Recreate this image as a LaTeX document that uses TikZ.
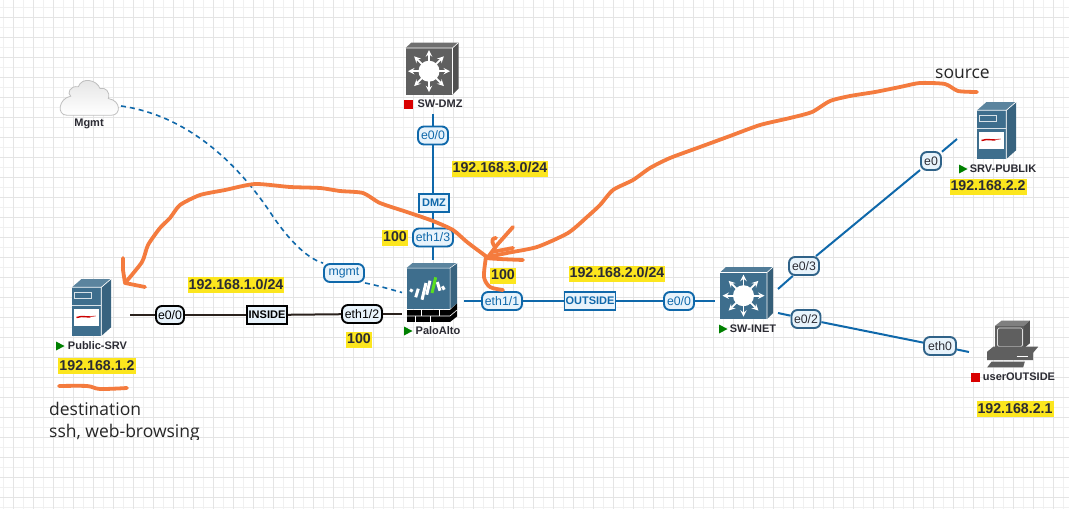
\documentclass[tikz,border=0pt]{standalone}
\usepackage{fontspec}
\usepackage{xcolor}
\usepackage{tikz}
\setmainfont{Liberation Sans}
\newfontfamily\notefont{Open Sans}
\usetikzlibrary{shapes,arrows,positioning,calc}

\definecolor{gridminor}{HTML}{F0F0F0}
\definecolor{gridmajor}{HTML}{E4E4E4}
\definecolor{linkblue}{HTML}{0F68AA}
\definecolor{linkdark}{HTML}{2A211C}
\definecolor{portfill}{HTML}{E8F3FB}
\definecolor{portslate}{HTML}{2F6288}
\definecolor{marker}{HTML}{FCE61E}
\definecolor{penorange}{HTML}{F47B3E}
\definecolor{iconblue}{HTML}{3E6E8D}
\definecolor{icongray}{HTML}{5F5F5F}
\definecolor{textdark}{HTML}{2B2B33}

\begin{document}
\begin{tikzpicture}[
    x=1pt, y=-1pt,
    device/.style={rectangle, inner sep=0pt, outer sep=0pt},
    devlabel/.style={inner sep=0pt, text=textdark, font=\fontsize{11}{12}\bfseries\selectfont},
    subnet/.style={fill=marker, inner xsep=1pt, inner ysep=1.5pt, text height=10.5pt, text depth=2.5pt, text=textdark, font=\fontsize{14.2}{15}\bfseries\selectfont},
    portlabel/.style={rectangle, draw=linkblue, fill=portfill, line width=1.9pt, rounded corners=6pt, inner sep=0pt, minimum height=18pt, text=linkblue, font=\fontsize{12.3}{13}\selectfont},
    portblack/.style={portlabel, draw=black, text=black},
    portslated/.style={portlabel, draw=portslate, text=textdark},
    zonelabel/.style={portlabel, rounded corners=0pt, font=\fontsize{11}{13}\bfseries\selectfont},
    bluelink/.style={draw=linkblue, line width=2pt},
    blacklink/.style={draw=linkdark, line width=2pt},
    mgmtlink/.style={draw=linkblue, line width=1.6pt, dash pattern=on 5pt off 4pt},
    freehand/.style={draw=penorange, line width=3.8pt, line cap=round, line join=round},
    note/.style={inner sep=0pt, anchor=west, text=black!85, font=\notefont\fontsize{17.5}{20}\selectfont},
    runflag/.pic={\fill[green!50!black] (-4,-4.5) -- (4.5,0) -- (-4,4.5) -- cycle;},
    stopflag/.pic={\fill[red!85!black] (-4.5,-4.5) rectangle (4.5,4.5);},
    pics/switchicon/.style={code={
        \fill[#1!90!white] (-26.5,-20.5) -- (-20.5,-26) -- (26.5,-26) -- (20.5,-20.5) -- cycle;
        \fill[#1!85!black] (20.5,-20.5) -- (26.5,-26) -- (26.5,20) -- (20.5,26) -- cycle;
        \fill[#1] (-26.5,-20.5) rectangle (20.5,26);
        \draw[white, line width=0.6pt] (-26.5,-20.5) -- (20.5,-20.5) -- (26.5,-26) (20.5,-20.5) -- (20.5,26);
        \fill[white] (-3,2.7) circle (10.5);
        \foreach \ang in {0,45,...,315}
            \draw[white, line width=1.8pt, ->, >=stealth] (-3,2.7) -- ++(\ang:21);
    }},
    servericon/.pic={
        \fill[iconblue!85!white] (-19.5,-20.2) -- (-10,-28.5) -- (19.5,-28.5) -- (9.8,-20.2) -- cycle;
        \fill[iconblue] (-19.5,-20.2) rectangle (9.8,28.5);
        \fill[iconblue!90!black] (9.8,-20.2) -- (19.5,-28.5) -- (19.5,19.8) -- (9.8,28.5) -- cycle;
        \draw[white, line width=0.7pt] (-19.5,-20.2) -- (9.8,-20.2) -- (19.5,-28.5) (9.8,-20.2) -- (9.8,28.5);
        \draw[white!80!iconblue, line width=1pt] (-16.8,-15.2) rectangle (0,-8.8);
        \draw[white!80!iconblue, line width=1pt] (-19.5,-2) -- (9.8,-2);
        \fill[white] (-18,1) rectangle (7,18);
        \draw[red!80!black, line width=1.4pt] (-15,10) -- (-10,9) -- (-1,9.5);
        \draw[red!80!black, line width=0.6pt] (-1,9) -- (4,8.5);
    },
    pcicon/.pic={
        \fill[icongray!80!white] (-17.7,-18) -- (-11,-23.3) -- (17.3,-23.3) -- (11.3,-18) -- cycle;
        \fill[icongray] (-17.7,-18) rectangle (11.3,4.3);
        \fill[icongray!85!black] (11.3,-18) -- (17.3,-23.3) -- (17.3,-0.7) -- (11.3,4.3) -- cycle;
        \draw[white!80!icongray, line width=0.7pt, rounded corners=1.5pt] (-15,-16) rectangle (10,2.7);
        \fill[icongray] (-25.3,7.7) -- (-19.3,2.7) -- (25.7,2.7) -- (20.7,8.7) -- (20.7,16) -- (-25.3,16) -- cycle;
        \draw[white, line width=0.6pt] (4,12) -- (15.7,12);
        \fill[icongray] (-25.3,23.3) -- (-21,17.7) -- (12.3,17.7) -- (10.7,23.3) -- cycle;
    },
    paloicon/.pic={
        \fill[iconblue!85!white] (-25,-24.5) -- (-19,-29.5) -- (25.5,-29.5) -- (18.5,-24.5) -- cycle;
        \fill[iconblue] (-25,-24.5) rectangle (18.5,16.5);
        \fill[iconblue!90!black] (18.5,-24.5) -- (25.5,-29.5) -- (25.5,11) -- (18.5,16.5) -- cycle;
        \draw[white, line width=0.5pt] (-25,-24.5) -- (18.5,-24.5) -- (25.5,-29.5) (18.5,-24.5) -- (18.5,16.5);
        % Logo strokes
        \foreach \xa/\ya/\xb/\yb in {-21.5/-2.8/-18.8/-1.2, -15.8/4.8/-13.2/-3.8, -9.5/7.2/-5.5/-9.5, -4.8/2.2/-1.5/-11.8, 5.8/-10.5/8.5/-1.8, 10.8/-6.2/12.8/-2.8}
            \draw[white, line width=3pt] (\xa,\ya) -- (\xb,\yb);
        \draw[green!70!yellow!75!gray, line width=3pt] (0.5,0.5) -- (4.2,-15.2);
        % Brick wall
        \fill[black] (-25,17.5) rectangle (18.5,29.5);
        \fill[black] (18.5,17.5) -- (25.5,11) -- (25.5,24) -- (18.5,29.5) -- cycle;
        \draw[white, line width=0.6pt] (-25,23.5) -- (18.5,23.5) -- (25.5,17.5) (-10,17.5) -- (-10,23.5) (8,17.5) -- (8,23.5) (-1,23.5) -- (-1,29.5) (-16,23.5) -- (-16,29.5);
    }
]

% Background grid
\useasboundingbox (0,0) rectangle (1069,509);
\fill[white] (0,0) rectangle (1069,509);
\foreach \gx in {3.3,23.3,...,1069}
    \draw[gridminor, line width=1pt] (\gx,0) -- (\gx,509);
\foreach \gy in {7.5,27.5,...,509}
    \draw[gridminor, line width=1pt] (0,\gy) -- (1069,\gy);
\foreach \gx in {13.3,33.3,...,1069}
    \draw[gridmajor, line width=1pt] (\gx,0) -- (\gx,509);
\foreach \gy in {17.5,37.5,...,509}
    \draw[gridmajor, line width=1pt] (0,\gy) -- (1069,\gy);

% Devices
\node [device, minimum width=64pt, minimum height=37pt] (mgmtcloud) at (89,97.5) {};
\node [device, minimum width=77pt, minimum height=57pt] (publicsrv) at (91.5,307.5) {};
\node [device, minimum width=62pt, minimum height=65pt] (paloalto) at (433,292.5) {};
\node [device, minimum width=52pt, minimum height=91pt] (swdmz) at (433,68.5) {};
\node [device, minimum width=63pt, minimum height=52pt] (swinet) at (746.5,293) {};
\node [device, minimum width=79pt, minimum height=57pt] (srvpublik) at (996.5,130.5) {};
\node [device, minimum width=87pt, minimum height=46pt] (useroutside) at (1012.5,344) {};

% Cloud
\shade[top color=gridmajor, bottom color=white, draw=black!25, line width=0.8pt] (66.7,115.2) -- (111.7,115.2)
    .. controls (120.7,115.2) and (121.7,100.8) .. (108.3,98.5)
    .. controls (110.7,91.8) and (105,86.8) .. (100,88.5)
    .. controls (96.7,79.5) and (81.7,76.8) .. (78.3,86.8)
    .. controls (70,85.2) and (66.7,93.5) .. (70.7,96.2)
    .. controls (58.3,98.5) and (56.7,115.2) .. (66.7,115.2) -- cycle;

% Device icons
\pic at (publicsrv) {servericon};
\pic at ([xshift=-1.5pt]paloalto.center) {paloicon};
\pic at ([xshift=-1pt]swdmz.center) {switchicon=icongray};
\pic at (swinet) {switchicon=iconblue};
\pic at (srvpublik) {servericon};
\pic at (useroutside) {pcicon};

% Device names
\node [devlabel] (mgmtname) at (89,124) {Mgmt};
\node [devlabel] (publicname) at (97.5,346) {Public-SRV};
\node [devlabel] (paloname) at (438,331) {PaloAlto};
\node [devlabel] (dmzname) at (440,104) {SW-DMZ};
\node [devlabel] (inetname) at (753,329) {SW-INET};
\node [devlabel] (publikname) at (1003,169) {SRV-PUBLIK};
\node [devlabel] (username) at (1019,377) {userOUTSIDE};

% Status flags
\pic at (60,346) {runflag};
\pic at (408,331) {runflag};
\pic at (408.5,104.5) {stopflag};
\pic at (723,329) {runflag};
\pic at (963,169) {runflag};
\pic at (975.5,377) {stopflag};

% Ports and zones
\node [portblack, minimum width=28pt] (srvport) at (170,315) {e0/0};
\node [portblack, zonelabel, draw=black, text=black, minimum width=40pt] (inside) at (267,315) {INSIDE};
\node [portblack, minimum width=40pt] (eth12) at (362,314) {eth1/2};
\node [portlabel, minimum width=40pt] (eth11) at (502,301) {eth1/1};
\node [zonelabel, minimum width=51pt] (outside) at (590,301) {OUTSIDE};
\node [portlabel, minimum width=30pt] (inetin) at (679,301) {e0/0};
\node [portlabel, minimum width=40pt] (eth13) at (433,237.5) {eth1/3};
\node [zonelabel, minimum width=30pt] (dmz) at (434,203) {DMZ};
\node [portlabel, minimum width=30pt] (dmzport) at (433,135.5) {e0/0};
\node [portlabel, minimum width=40pt] (mgmt) at (344,273) {mgmt};
\node [portslated, minimum width=30pt] (inet3) at (804,266) {e0/3};
\node [portslated, minimum width=20pt] (publikport) at (931,161) {e0};
\node [portslated, minimum width=29pt] (inet2) at (806,319) {e0/2};
\node [portslated, minimum width=32pt] (userport) at (940,346) {eth0};

% Links
\draw [blacklink] (publicsrv.east |- srvport) -- (srvport);
\draw [blacklink] (srvport) -- (inside);
\draw [blacklink] (inside) -- (eth12);
\draw [blacklink] (eth12) -- (paloalto.west |- eth12);
\draw [bluelink] (paloalto.east |- eth11) -- (eth11);
\draw [bluelink] (eth11) -- (outside);
\draw [bluelink] (outside) -- (inetin);
\draw [bluelink] (inetin) -- (swinet.west |- inetin);
\draw [bluelink] (swdmz.south) -- (dmzport);
\draw [bluelink] (dmzport) -- (dmz.north -| dmzport);
\draw [bluelink] (dmz.south -| eth13) -- (eth13);
\draw [bluelink] (eth13) -- (paloalto.north);
\draw [bluelink] ($(swinet.east)+(0,-4)$) -- (inet3);
\draw [bluelink] (inet3) -- (publikport);
\draw [bluelink] (publikport) -- ($(srvpublik.west)+(0,8.5)$);
\draw [bluelink] ($(swinet.east)+(0,20)$) -- (inet2);
\draw [bluelink] (inet2) -- (userport);
\draw [bluelink] (userport) -- ($(useroutside.west)+(0,8)$);

% Management link
\draw [mgmtlink] ($(mgmtcloud.east)+(0,8.5)$) .. controls (185,115) and (235,160) .. (270,212) .. controls (285,235) and (305,258) .. (mgmt.north west);
\draw [mgmtlink] (mgmt.south east) .. controls (375,285) .. (paloalto.west);

% Subnet tags
\node [subnet] (subnetone) at (236,285) {192.168.1.0/24};
\node [subnet] (subnettwo) at (617,273.5) {192.168.2.0/24};
\node [subnet] (subnetthree) at (500,168.5) {192.168.3.0/24};
\node [subnet] (hostsrv) at (97,366) {192.168.1.2};
\node [subnet] (hostpublik) at (988,186.5) {192.168.2.2};
\node [subnet] (hostuser) at (1015,409) {192.168.2.1};
\node [subnet] (costleft) at (395,237.5) {100};
\node [subnet] (costright) at (503,275.5) {100};
\node [subnet] (costbelow) at (359,339.5) {100};

% Pen strokes
\draw [freehand] plot[smooth, tension=0.4] coordinates {(977,92) (958,91) (945,84) (920,83) (900,87) (875,92) (850,96) (830,101) (812,112) (790,118) (760,125) (730,136) (700,147) (670,158) (650,168) (633,180) (613,190) (600,205) (587,217) (568,233) (537,247) (507,253) (487,258) (523,260)};
\draw [freehand] plot[smooth, tension=0.4] coordinates {(487,257) (467,242) (453,230) (433,221) (410,213) (380,203) (363,193) (340,191) (320,188) (290,187) (255,184) (225,190) (200,195) (180,205) (170,218) (160,228) (148,245) (142,262) (125,283)};
\draw [freehand] (123,258) -- (123,270) -- (125,283) -- (145,287);
\draw [freehand] plot[smooth, tension=0.5] coordinates {(486,257) (484,277) (490,287) (503,290)};
\draw [freehand] (513,227) -- (497,245) -- (488,257);
\draw [freehand] (495,247) .. controls (490,240) and (493,238) .. (496,238) (492,252) -- (513,248);
\draw [freehand] plot[smooth, tension=0.5] coordinates {(59,386) (87,386) (100,389) (127,388)};

% Notes
\node [note] (sourcenote) at (935,74) {source};
\node [note] (destnote) at (49,409) {destination};
\begin{scope}
    \clip (40,420) rectangle (215,439);
    \node [note] (usagenote) at (49,433) {ssh, web-browsing};
\end{scope}

\end{tikzpicture}
\end{document}
